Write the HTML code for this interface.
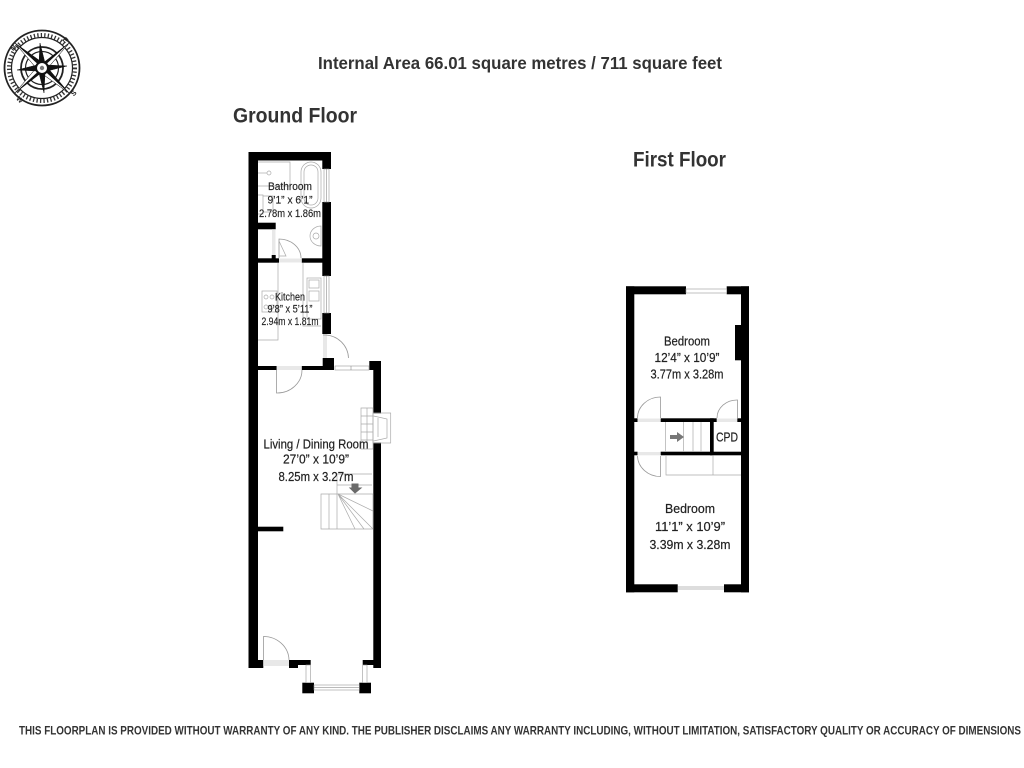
<!DOCTYPE html>
<html><head><meta charset="utf-8"><style>
html,body{margin:0;padding:0;background:#fff}
svg{display:block}
text{font-family:"Liberation Sans",sans-serif;fill:#222}
.t{font-weight:bold;fill:#333}
.w{fill:#000}
.f{fill:none;stroke:#aaa;stroke-width:.7}
.d{fill:none;stroke:#999;stroke-width:.8}
.l{font-size:11px;text-anchor:middle;stroke:#222;stroke-width:.15}
.m{font-size:12.5px;text-anchor:middle;stroke:#222;stroke-width:.2}
</style></head><body>
<svg width="1024" height="768" viewBox="0 0 1024 768" xmlns="http://www.w3.org/2000/svg">
<rect width="1024" height="768" fill="#fff"/>

<!-- compass -->
<g transform="translate(42,68)">
<circle r="37.5" fill="none" stroke="#222" stroke-width="1.8"/>
<circle r="33" fill="none" stroke="#333" stroke-width="4" stroke-dasharray="1.3 2.2"/>
<circle r="30.5" fill="none" stroke="#222" stroke-width="1.2"/>
<circle r="21" fill="none" stroke="#222" stroke-width="1.8"/>
<circle r="16.5" fill="none" stroke="#222" stroke-width="1.2"/>
<g stroke="#111" stroke-width=".5">
<path d="M-27,-25 L-5,1 L1,-5Z M27,-25 L1,-5 L5,1 Z M27,25 L5,-1 L-1,5 Z M-27,25 L-1,5 L-5,-1Z" fill="#111"/>
<path d="M-27,-25 L-5,1 L-3,-3Z M27,-25 L5,1 L3,-3Z M27,25 L-1,5 L3,3Z M-27,25 L-5,-1 L-3,3Z" fill="#fff"/>
<path d="M-2,-25 L3,-5 L0,0 L-3,-5Z M25,-2 L5,3 L0,0 L5,-3Z M2,25 L-3,5 L0,0 L3,5Z M-25,2 L-5,-3 L0,0 L-5,3Z" fill="#111"/>
</g>
<circle r="6" fill="#fff" stroke="#111" stroke-width="2"/>
<circle r="2.2" fill="#777"/>
</g>
<text x="10" y="50" style="font-size:7px;font-weight:bold" transform="rotate(-45 13 47)">N</text>
<text x="63" y="42" style="font-size:7px;font-weight:bold" transform="rotate(45 65 40)">E</text>
<text x="71" y="96" style="font-size:7px;font-weight:bold" transform="rotate(-45 73 93)">S</text>
<text x="17" y="102" style="font-size:7px;font-weight:bold" transform="rotate(45 20 99)">W</text>

<!-- titles -->
<text class="t" x="318" y="69" font-size="17.5" textLength="404" lengthAdjust="spacingAndGlyphs">Internal Area 66.01 square metres / 711 square feet</text>
<text class="t" x="233" y="122.5" font-size="21.5" textLength="124" lengthAdjust="spacingAndGlyphs">Ground Floor</text>
<text class="t" x="633" y="166.5" font-size="21.5" textLength="93" lengthAdjust="spacingAndGlyphs">First Floor</text>
<text class="t" x="19" y="734.5" font-size="12" textLength="1002" lengthAdjust="spacingAndGlyphs">THIS FLOORPLAN IS PROVIDED WITHOUT WARRANTY OF ANY KIND. THE PUBLISHER DISCLAIMS ANY WARRANTY INCLUDING, WITHOUT LIMITATION, SATISFACTORY QUALITY OR ACCURACY OF DIMENSIONS</text>

<!-- GROUND FLOOR walls -->
<g class="w">
<rect x="248.5" y="152" width="9.5" height="516"/>
<rect x="248.5" y="152" width="82.5" height="8.5"/>
<rect x="322.3" y="152" width="8.7" height="17"/>
<rect x="322.3" y="202" width="8.7" height="74"/>
<rect x="322.3" y="313" width="8.7" height="21"/>
<rect x="322.7" y="358" width="11.3" height="12"/>
<rect x="258" y="258.3" width="21" height="4.4"/>
<rect x="301.7" y="258.3" width="21" height="4.4"/>
<rect x="258" y="222.7" width="17.7" height="6.6"/>
<rect x="271.7" y="255" width="4" height="4"/>
<rect x="258" y="366" width="18.7" height="4"/>
<rect x="301.7" y="366" width="32.3" height="4"/>
<rect x="369.3" y="361" width="11.7" height="9"/>
<rect x="373.3" y="361" width="7.7" height="307"/>
<rect x="258" y="526.7" width="25.3" height="4.6"/>
<rect x="248.5" y="660" width="14.8" height="8"/>
<rect x="289" y="660" width="21.7" height="5"/>
<rect x="289" y="660" width="9" height="8"/>
<rect x="362.7" y="660" width="14" height="5"/>
<rect x="302.3" y="682.7" width="11.7" height="10.6"/>
<rect x="359.3" y="682.7" width="11.7" height="10.6"/>
</g>

<!-- windows ground -->
<g fill="#fff" stroke="#999" stroke-width=".6">
<rect x="324" y="169" width="5" height="33"/>
<rect x="324" y="276" width="5" height="37"/>
<rect x="335" y="366" width="34" height="4"/>
<rect x="306" y="665" width="4.5" height="17.7"/>
<rect x="362.7" y="665" width="4.3" height="17.7"/>
<rect x="314" y="685" width="45.3" height="5"/>
</g>
<path d="M326.5,169V202M326.5,276V313M351,366V370M314,687.5H359" stroke="#777" stroke-width=".5" fill="none"/>
<rect x="279" y="258.5" width="22.7" height="4" fill="#e8e8e8"/>
<rect x="276.7" y="366" width="25" height="4" fill="#e8e8e8"/>
<rect x="263.3" y="660" width="25.7" height="6" fill="#e8e8e8"/>
<rect x="323" y="334" width="4" height="24" fill="#e8e8e8"/>
<rect x="272" y="229.3" width="3.5" height="25.7" fill="#e8e8e8"/>

<!-- doors -->
<path class="d" d="M279,258V239A22,19 0 0 1 301,258"/>
<path class="d" d="M276.5,370V393A25,23 0 0 0 302,370"/>
<path class="d" d="M263.5,660V636.5A25.5,24 0 0 1 289,660"/>
<path class="d" d="M323,335H325A24,24 0 0 1 348.5,358"/>

<!-- fixtures -->
<g class="f">
<path d="M258,162H290V186H258"/>
<circle cx="269" cy="173" r="2"/><path d="M258,173H267"/>
<rect x="301" y="162" width="20" height="46" rx="10"/>
<rect x="304" y="165" width="14" height="40" rx="7"/>
<path d="M258,195H263V214H258"/><path d="M263,196H273V212H263"/>
<path d="M321,226A11,10 0 0 0 321,246Z"/><circle cx="316" cy="236" r="3"/>
<path d="M279,241V256H286L279,241"/>
<path d="M278,263V340H258"/>
<path d="M303,263V326H321"/>
<rect x="307" y="278" width="14" height="41"/>
<rect x="309" y="280" width="10" height="8"/>
<rect x="309" y="291" width="10" height="10"/>
<rect x="262" y="291" width="15" height="21"/>
<circle cx="266" cy="297" r="2"/><circle cx="272" cy="297" r="2"/><circle cx="266" cy="307" r="2"/><circle cx="272" cy="307" r="2"/>
<path d="M361,408H373V449H361Z M361,416H373M361,424H373M361,432H373M361,440H373M367,408V449"/>
<path d="M337,474H372M337,474V494M337,485H372"/>
<path d="M321,494H373V529H321Z M329,494V529M337,494V529"/>
<path d="M338,494L373,511M338,494L364,529M338,494L355,529M338,494L373,529"/>
</g>
<path d="M352,484H358V488H361L355,493L350,488H352Z" fill="#6a6a6a" stroke="#6a6a6a" stroke-width="1"/>
<rect x="373.3" y="413.5" width="8" height="29" fill="#fff"/>
<g class="f"><rect x="373" y="413" width="17.7" height="30"/><path d="M373.5,416L387,419V438L373.5,441M378,418V437"/></g>

<!-- ground labels -->
<text class="l" x="290" y="190" textLength="44" lengthAdjust="spacingAndGlyphs">Bathroom</text>
<text class="l" x="290" y="203.5" textLength="45" lengthAdjust="spacingAndGlyphs">9’1” x 6’1”</text>
<text class="l" x="290" y="217" textLength="62" lengthAdjust="spacingAndGlyphs">2.78m x 1.86m</text>
<text class="l" x="290" y="300.5" textLength="30" lengthAdjust="spacingAndGlyphs">Kitchen</text>
<text class="l" x="290" y="312.5" textLength="45" lengthAdjust="spacingAndGlyphs">9’8” x 5’11”</text>
<text class="l" x="290" y="325" textLength="57" lengthAdjust="spacingAndGlyphs">2.94m x 1.81m</text>
<text class="m" x="316" y="448.5" textLength="105" lengthAdjust="spacingAndGlyphs">Living / Dining Room</text>
<text class="m" x="316" y="463.5" textLength="66" lengthAdjust="spacingAndGlyphs">27’0” x 10’9”</text>
<text class="m" x="316" y="481" textLength="75" lengthAdjust="spacingAndGlyphs">8.25m x 3.27m</text>

<!-- FIRST FLOOR walls -->
<g class="w">
<rect x="626" y="286.3" width="8.3" height="306"/>
<rect x="741" y="286.3" width="8" height="306"/>
<rect x="626" y="286.3" width="60" height="8"/>
<rect x="726.7" y="286.3" width="22.3" height="8"/>
<rect x="626" y="584.3" width="51.7" height="8"/>
<rect x="724" y="584.3" width="25" height="8"/>
<rect x="735" y="325" width="6" height="35.3"/>
<rect x="634" y="418.3" width="3.5" height="3.7"/>
<rect x="660.7" y="418.3" width="56" height="3.7"/>
<rect x="737.3" y="418.3" width="4" height="3.7"/>
<rect x="634" y="451.7" width="3.5" height="3.6"/>
<rect x="660.7" y="451.7" width="80.5" height="3.6"/>
<rect x="710" y="418.3" width="3.7" height="37"/>
</g>
<g fill="#fff" stroke="#999" stroke-width=".6">
<rect x="686" y="289" width="40.7" height="4"/>
</g>
<rect x="678" y="586" width="46" height="4" fill="#ddd"/>
<rect x="637.5" y="418.5" width="23" height="3.5" fill="#e8e8e8"/>
<rect x="637.5" y="452" width="23" height="3.3" fill="#e8e8e8"/>
<rect x="717" y="418.5" width="20" height="3.5" fill="#e8e8e8"/>
<path class="d" d="M660.5,418V397A23,21 0 0 0 637.5,418"/>
<path class="d" d="M660.5,456V476.5A23,21 0 0 1 637.5,456"/>
<path class="d" d="M737.5,418V400A20,18 0 0 0 717,418"/>
<g class="f">
<path d="M665.5,422V452M683.5,422V452M693,422V452M701,422V452"/>
<path d="M666,455V475H741M713,455V475"/>
</g>
<path d="M670,435H677V432L684,437L677,442V439H670Z" fill="#777"/>

<text class="m" x="687" y="345.5" textLength="46" lengthAdjust="spacingAndGlyphs">Bedroom</text>
<text class="m" x="687" y="362" textLength="65" lengthAdjust="spacingAndGlyphs">12’4” x 10’9”</text>
<text class="m" x="687" y="378.5" textLength="73" lengthAdjust="spacingAndGlyphs">3.77m x 3.28m</text>
<text class="m" x="727" y="441.5" textLength="22" lengthAdjust="spacingAndGlyphs">CPD</text>
<text class="m" x="690" y="513" textLength="50" lengthAdjust="spacingAndGlyphs">Bedroom</text>
<text class="m" x="690" y="531" textLength="70" lengthAdjust="spacingAndGlyphs">11’1” x 10’9”</text>
<text class="m" x="690" y="549" textLength="81" lengthAdjust="spacingAndGlyphs">3.39m x 3.28m</text>
</svg>
</body></html>
